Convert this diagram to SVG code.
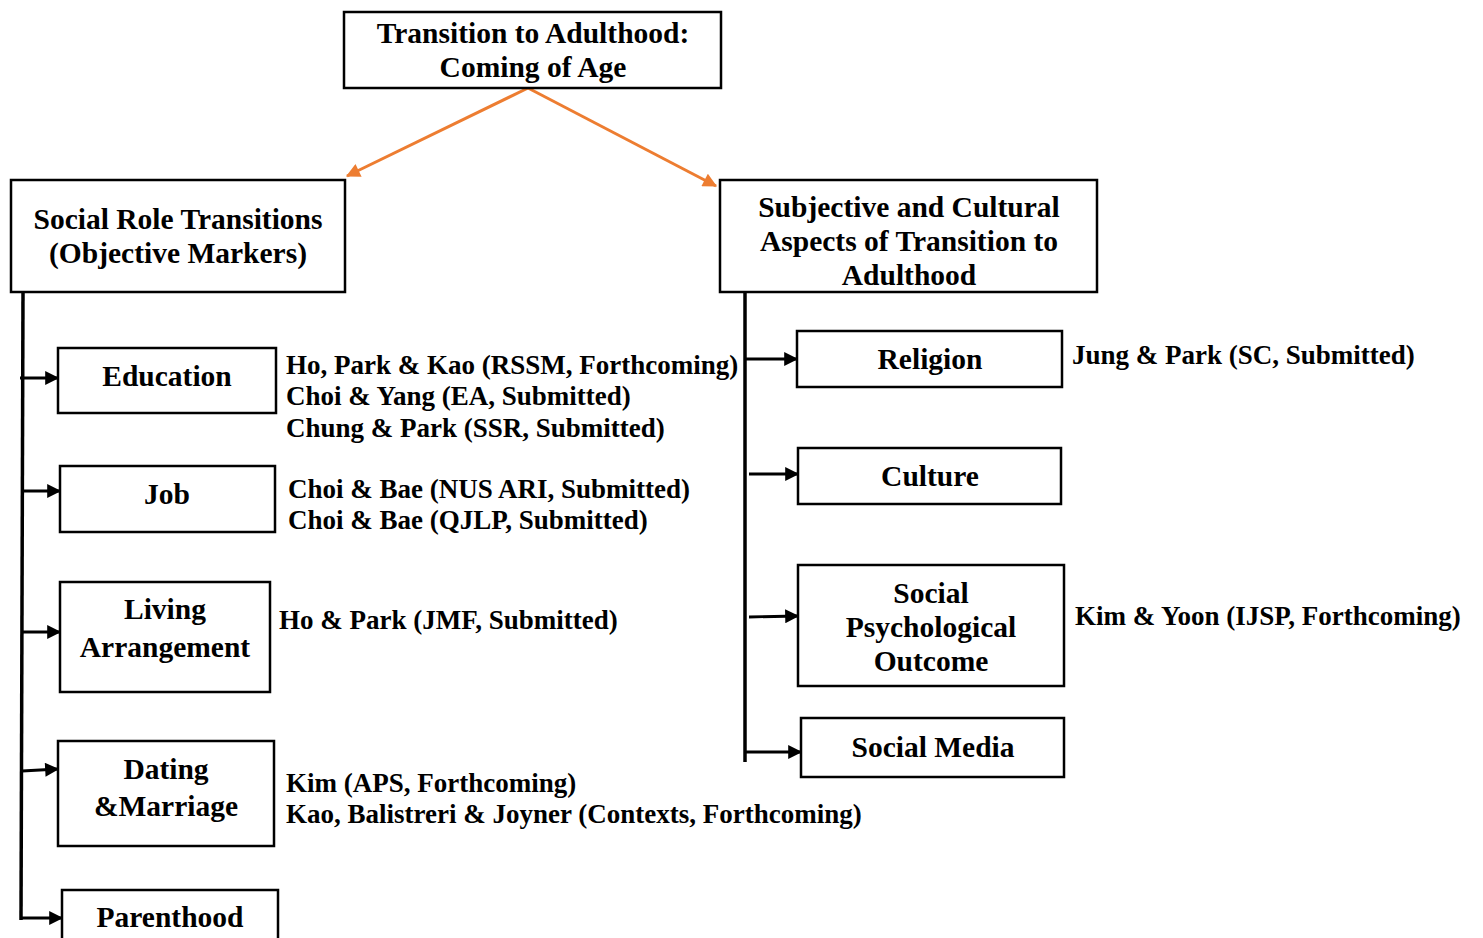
<svg xmlns="http://www.w3.org/2000/svg" width="1483" height="938" viewBox="0 0 1483 938">
<style>
.box{fill:#fff;stroke:#000;stroke-width:2.5}
.lbl{font-family:"Liberation Serif","Times New Roman",serif;font-weight:bold;font-size:29.5px;fill:#000;text-anchor:middle}
.cit{font-family:"Liberation Serif","Times New Roman",serif;font-weight:bold;font-size:27px;fill:#000}
.bus{stroke:#000;stroke-width:3.5;fill:none}
.br{stroke:#000;stroke-width:2.8;fill:none;marker-end:url(#ab)}
.or{stroke:#ED7D31;stroke-width:3;fill:none;marker-end:url(#ao)}
</style>
<defs>
<marker id="ab" viewBox="0 0 12 12" refX="11" refY="6" markerWidth="15" markerHeight="14" markerUnits="userSpaceOnUse" orient="auto"><path d="M0,0 L12,6 L0,12 z" fill="#000"/></marker>
<marker id="ao" viewBox="0 0 12 12" refX="11" refY="6" markerWidth="17" markerHeight="14" markerUnits="userSpaceOnUse" orient="auto"><path d="M0,0 L12,6 L0,12 z" fill="#ED7D31"/></marker>
</defs>
<rect width="1483" height="938" fill="#fff"/>
<g id="connectors">
<line class="or" x1="528" y1="88" x2="347" y2="176"/>
<line class="or" x1="528" y1="88" x2="716" y2="186"/>
<line class="bus" x1="23" y1="292" x2="21" y2="920"/>
<line class="br" x1="20" y1="378" x2="58" y2="378"/>
<line class="br" x1="23" y1="491" x2="60" y2="491"/>
<line class="br" x1="22" y1="632" x2="60" y2="632"/>
<line class="br" x1="22" y1="771" x2="58" y2="769"/>
<line class="br" x1="20" y1="918" x2="62" y2="918"/>
<line class="bus" x1="745" y1="292" x2="745" y2="762"/>
<line class="br" x1="746" y1="359" x2="797" y2="359"/>
<line class="br" x1="749" y1="474" x2="798" y2="474"/>
<line class="br" x1="749" y1="617" x2="798" y2="616"/>
<line class="br" x1="746" y1="752" x2="801" y2="752"/>
</g>
<g id="root">
<rect class="box" x="344" y="12" width="377" height="76"/>
<text class="lbl" x="533" y="43">Transition to Adulthood:</text>
<text class="lbl" x="533" y="77">Coming of Age</text>
</g>
<g id="social-role">
<rect class="box" x="11" y="180" width="334" height="112"/>
<text class="lbl" x="178" y="229">Social Role Transitions</text>
<text class="lbl" x="178" y="263">(Objective Markers)</text>
</g>
<g id="subjective">
<rect class="box" x="720" y="180" width="377" height="112"/>
<text class="lbl" x="909" y="217">Subjective and Cultural</text>
<text class="lbl" x="909" y="251">Aspects of Transition to</text>
<text class="lbl" x="909" y="285">Adulthood</text>
</g>
<g id="education">
<rect class="box" x="58" y="348" width="218" height="65"/>
<text class="lbl" x="167" y="386">Education</text>
</g>
<g id="job">
<rect class="box" x="60" y="466" width="215" height="66"/>
<text class="lbl" x="167" y="504">Job</text>
</g>
<g id="living">
<rect class="box" x="60" y="582" width="210" height="110"/>
<text class="lbl" x="165" y="619">Living</text>
<text class="lbl" x="165" y="657">Arrangement</text>
</g>
<g id="dating">
<rect class="box" x="58" y="741" width="216" height="105"/>
<text class="lbl" x="166" y="779">Dating</text>
<text class="lbl" x="166" y="816">&amp;Marriage</text>
</g>
<g id="parenthood">
<rect class="box" x="62" y="890" width="216" height="60"/>
<text class="lbl" x="170" y="927">Parenthood</text>
</g>
<g id="religion">
<rect class="box" x="797" y="331" width="265" height="56"/>
<text class="lbl" x="930" y="369">Religion</text>
</g>
<g id="culture">
<rect class="box" x="798" y="448" width="263" height="56"/>
<text class="lbl" x="930" y="486">Culture</text>
</g>
<g id="social-psych">
<rect class="box" x="798" y="565" width="266" height="121"/>
<text class="lbl" x="931" y="603">Social</text>
<text class="lbl" x="931" y="637">Psychological</text>
<text class="lbl" x="931" y="671">Outcome</text>
</g>
<g id="social-media">
<rect class="box" x="801" y="718" width="263" height="59"/>
<text class="lbl" x="933" y="757">Social Media</text>
</g>
<g id="citations">
<text class="cit" x="286" y="374">Ho, Park &amp; Kao (RSSM, Forthcoming)</text>
<text class="cit" x="286" y="405">Choi &amp; Yang (EA, Submitted)</text>
<text class="cit" x="286" y="437">Chung &amp; Park (SSR, Submitted)</text>
<text class="cit" x="288" y="498">Choi &amp; Bae (NUS ARI, Submitted)</text>
<text class="cit" x="288" y="529">Choi &amp; Bae (QJLP, Submitted)</text>
<text class="cit" x="279" y="629">Ho &amp; Park (JMF, Submitted)</text>
<text class="cit" x="286" y="792">Kim (APS, Forthcoming)</text>
<text class="cit" x="286" y="823">Kao, Balistreri &amp; Joyner (Contexts, Forthcoming)</text>
<text class="cit" x="1072" y="364">Jung &amp; Park (SC, Submitted)</text>
<text class="cit" x="1075" y="625">Kim &amp; Yoon (IJSP, Forthcoming)</text>
</g>
</svg>
